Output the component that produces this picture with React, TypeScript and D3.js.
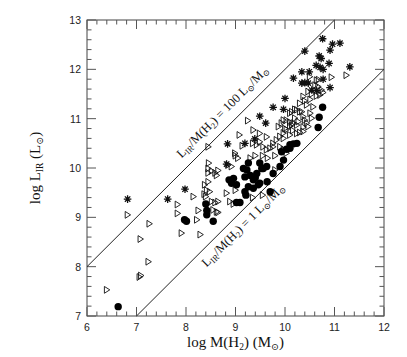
import React from "react";
import * as d3 from "d3";

const xDomain: [number, number] = [6, 12];
const yDomain: [number, number] = [7, 13];
const xTickValues = [6, 7, 8, 9, 10, 11, 12];
const yTickValues = [7, 8, 9, 10, 11, 12, 13];
// log(L_IR/M(H2)) of the two reference lines
const ratioLines = [
  { logRatio: 2, value: "100" },
  { logRatio: 0, value: "1" },
];

const stars: [number, number][] = [
  [6.82, 9.37], [7.63, 9.37], [7.98, 9.57], [8.84, 10.49], [8.82, 10.08],
  [9.19, 10.5], [9.39, 10.59], [9.61, 10.91], [9.49, 11.05], [9.76, 11.23],
  [9.97, 11.19], [10.0, 11.41], [10.17, 11.82], [10.34, 11.95], [10.49, 11.95],
  [10.34, 11.72], [10.4, 11.73], [10.47, 11.72], [10.4, 12.37], [10.76, 12.62],
  [10.96, 12.51], [11.11, 12.53], [10.91, 12.39], [10.69, 12.27], [10.73, 12.22],
  [10.89, 12.12], [10.63, 12.08], [10.71, 12.04], [10.77, 12.0], [11.31, 12.05],
  [10.77, 11.8], [10.91, 11.63], [10.54, 11.58], [10.64, 11.57],
];

const triangles: [number, number][] = [
  [6.4, 7.53], [7.06, 7.79], [7.09, 7.82], [7.24, 8.1], [7.08, 8.56],
  [7.26, 8.87], [6.82, 9.05], [7.83, 9.26], [7.83, 9.08], [7.91, 8.68],
  [8.15, 9.42], [8.22, 8.95], [8.29, 8.65], [8.25, 9.14], [8.37, 9.47],
  [8.55, 9.15], [8.65, 9.1], [8.65, 9.32], [8.96, 9.27], [8.59, 9.3],
  [8.52, 9.32], [8.4, 9.42], [8.42, 9.55], [8.48, 9.52], [8.38, 9.66],
  [8.45, 9.72], [8.62, 9.11], [8.82, 9.49], [8.89, 9.32],
  [8.45, 10.43], [8.46, 10.1], [8.45, 9.99], [8.52, 9.94], [8.59, 9.9],
  [8.65, 9.95], [8.62, 9.85], [8.45, 9.9], [8.85, 10.06], [8.92, 10.03],
  [9.25, 10.96], [9.08, 10.67], [8.99, 10.3], [9.0, 10.25], [9.14, 10.45],
  [9.35, 10.5], [9.43, 10.47], [9.49, 10.53], [9.56, 10.43], [9.63, 10.37],
  [9.7, 10.4], [9.76, 10.5], [9.83, 10.57], [9.9, 10.64], [9.97, 10.71],
  [10.03, 10.78], [10.1, 10.85], [10.17, 10.91], [9.9, 10.43], [9.97, 10.37],
  [10.03, 10.3], [9.36, 10.77], [9.49, 10.7], [9.63, 10.63], [9.76, 10.43],
  [9.05, 10.2], [9.3, 10.2], [9.4, 10.25], [9.55, 10.25], [9.65, 10.2],
  [9.8, 10.25], [9.35, 9.4], [9.55, 9.45], [9.0, 9.55], [9.8, 9.96],
  [11.24, 11.88], [10.5, 11.85], [10.64, 11.78], [10.68, 11.79], [10.94, 11.84],
  [10.61, 11.68], [10.67, 11.65], [10.74, 11.58], [10.77, 11.53], [10.47, 11.55],
  [10.54, 11.5], [10.64, 11.46], [10.71, 11.48], [10.37, 11.45], [10.4, 11.36],
  [10.51, 11.39], [10.14, 11.14], [10.2, 11.19], [10.3, 11.14],
  [9.97, 10.97], [10.1, 10.93], [10.24, 10.87], [10.37, 10.83], [10.44, 10.91],
  [10.16, 10.76], [10.3, 10.72], [10.3, 11.31], [10.44, 11.28], [10.57, 11.24],
  [10.24, 11.18], [10.34, 11.14], [10.51, 11.11], [10.37, 11.04], [10.2, 11.01],
  [10.1, 11.11], [10.03, 10.97], [9.93, 10.91], [9.87, 10.84], [10.0, 10.8],
  [10.14, 10.87], [10.27, 10.94], [10.4, 10.97], [10.54, 11.01], [10.47, 10.84],
  [10.37, 10.74], [10.24, 10.7], [10.1, 10.67], [9.97, 10.6],
];

const circles: [number, number][] = [
  [6.63, 7.19], [7.97, 8.95], [8.01, 8.92], [8.55, 8.92], [8.4, 9.27],
  [8.42, 9.14], [8.42, 9.05], [9.09, 9.3], [9.21, 9.45], [9.19, 9.52],
  [9.02, 9.3], [8.87, 9.76], [8.92, 9.69], [9.02, 9.66], [9.26, 9.62],
  [9.36, 9.59], [9.46, 9.66], [9.49, 9.69], [9.64, 9.72], [9.7, 9.52],
  [9.36, 9.76], [9.43, 9.89], [9.56, 9.99], [9.49, 10.1], [9.16, 9.99],
  [9.23, 9.96], [8.96, 9.79], [9.19, 9.82], [9.26, 10.1], [9.53, 9.99],
  [9.63, 10.03], [9.76, 9.89], [9.9, 10.03], [9.97, 10.16], [9.93, 10.33],
  [10.03, 10.38], [10.1, 10.4], [10.17, 10.49], [10.24, 10.5], [10.1, 10.47],
  [10.76, 11.23], [10.69, 11.03], [10.67, 10.82], [9.3, 9.85], [9.4, 9.8],
];

const W = 407;
const H = 357;
const plotLeft = 87;
const plotRight = 384;
const plotTop = 20;
const plotBottom = 316;

const serif = "'Liberation Serif', 'DejaVu Serif', serif";
const sans = "'Liberation Sans', 'DejaVu Sans', sans-serif";

function starPath(r: number) {
  const parts: string[] = [];
  for (let i = 0; i < 4; i++) {
    const a = (i * Math.PI) / 4;
    const dx = r * Math.cos(a);
    const dy = r * Math.sin(a);
    parts.push(`M${-dx},${-dy}L${dx},${dy}`);
  }
  return parts.join("");
}

export default function App() {
  const x = d3.scaleLinear().domain(xDomain).range([plotLeft, plotRight]);
  const y = d3.scaleLinear().domain(yDomain).range([plotBottom, plotTop]);

  const minorX = d3.range(xDomain[0], xDomain[1] + 0.001, 0.2);
  const minorY = d3.range(yDomain[0], yDomain[1] + 0.001, 0.2);
  const isMajor = (v: number) => Math.abs(v - Math.round(v)) < 1e-6;

  const tri = d3.line()([[-2.4, -3.4], [3.0, 0], [-2.4, 3.4]]) + "Z";
  const star = starPath(3.8);

  const lineSeg = (lr: number) => {
    const x0 = Math.max(xDomain[0], yDomain[0] - lr);
    const x1 = Math.min(xDomain[1], yDomain[1] - lr);
    return { x0: x(x0), y0: y(x0 + lr), x1: x(x1), y1: y(x1 + lr) };
  };

  const sub = 8.5;
  const label = (value: string) => (
    <>
      <tspan>L</tspan>
      <tspan fontSize={sub} dy={2.5}>IR</tspan>
      <tspan dy={-2.5}>/M(H</tspan>
      <tspan fontSize={sub} dy={2.5}>2</tspan>
      <tspan dy={-2.5}>{`) = ${value} L`}</tspan>
      <tspan fontSize={sub} dy={2.5}>⊙</tspan>
      <tspan dy={-2.5}>/M</tspan>
      <tspan fontSize={sub} dy={2.5}>⊙</tspan>
    </>
  );

  const labelStart = [8.05, 8.2];
  const labelOffset = [-10, 15];

  return (
    <svg
      width={W}
      height={H}
      style={{ position: "absolute", left: 0, top: 0, background: "#fff" }}
    >
      <rect x={0} y={0} width={W} height={H} fill="#fff" />
      <rect
        x={plotLeft}
        y={plotTop}
        width={plotRight - plotLeft}
        height={plotBottom - plotTop}
        fill="none"
        stroke="#444"
        strokeWidth={1}
      />
      <g stroke="#555" strokeWidth={1}>
        {minorX.map((v, i) => {
          const len = isMajor(v) ? 9 : 4.5;
          const px = x(v);
          return (
            <g key={"tx" + i}>
              <line x1={px} x2={px} y1={plotBottom} y2={plotBottom - len} />
              <line x1={px} x2={px} y1={plotTop} y2={plotTop + len} />
            </g>
          );
        })}
        {minorY.map((v, i) => {
          const len = isMajor(v) ? 9 : 4.5;
          const py = y(v);
          return (
            <g key={"ty" + i}>
              <line x1={plotLeft} x2={plotLeft + len} y1={py} y2={py} />
              <line x1={plotRight} x2={plotRight - len} y1={py} y2={py} />
            </g>
          );
        })}
      </g>
      <g fontFamily={sans} fontSize={10.5} fill="#222">
        {xTickValues.map((v) => (
          <text key={"xl" + v} x={x(v)} y={plotBottom + 15} textAnchor="middle">
            {v}
          </text>
        ))}
        {yTickValues.map((v) => (
          <text key={"yl" + v} x={plotLeft - 6} y={y(v) + 4} textAnchor="end">
            {v}
          </text>
        ))}
      </g>
      <text
        x={(plotLeft + plotRight) / 2}
        y={347}
        textAnchor="middle"
        fontFamily={serif}
        fontSize={15}
        fill="#111"
      >
        <tspan>log  M(H</tspan>
        <tspan fontSize={9.5} dy={3}>2</tspan>
        <tspan dy={-3}>)  (M</tspan>
        <tspan fontSize={9.5} dy={3}>⊙</tspan>
        <tspan dy={-3}>)</tspan>
      </text>
      <text
        transform={`translate(40,${(plotTop + plotBottom) / 2}) rotate(-90)`}
        textAnchor="middle"
        fontFamily={serif}
        fontSize={15}
        fill="#111"
      >
        <tspan>log  L</tspan>
        <tspan fontSize={9.5} dy={3}>IR</tspan>
        <tspan dy={-3}>  (L</tspan>
        <tspan fontSize={9.5} dy={3}>⊙</tspan>
        <tspan dy={-3}>)</tspan>
      </text>
      {ratioLines.map((r, i) => {
        const s = lineSeg(r.logRatio);
        const lx = x(labelStart[i]);
        const ly = y(labelStart[i] + r.logRatio);
        return (
          <g key={"rl" + i}>
            <line x1={s.x0} y1={s.y0} x2={s.x1} y2={s.y1} stroke="#222" strokeWidth={1} />
            <text
              transform={`translate(${lx},${ly}) rotate(-45)`}
              y={labelOffset[i]}
              fontFamily={serif}
              fontSize={12.5}
              fill="#111"
            >
              {label(r.value)}
            </text>
          </g>
        );
      })}
      <g fill="none" stroke="#111" strokeWidth={0.9}>
        {triangles.map((d, i) => (
          <path key={"t" + i} d={tri} transform={`translate(${x(d[0])},${y(d[1])})`} />
        ))}
      </g>
      <g stroke="#111" strokeWidth={1.3}>
        {stars.map((d, i) => (
          <path key={"s" + i} d={star} transform={`translate(${x(d[0])},${y(d[1])})`} />
        ))}
      </g>
      <g fill="#000">
        {circles.map((d, i) => (
          <circle key={"c" + i} cx={x(d[0])} cy={y(d[1])} r={3.7} />
        ))}
      </g>
    </svg>
  );
}
